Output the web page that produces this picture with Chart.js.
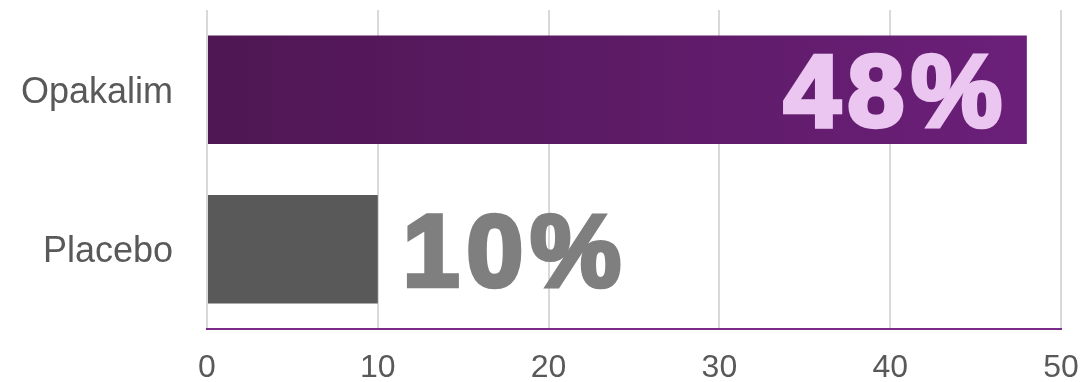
<!DOCTYPE html>
<html>
<head>
<meta charset="utf-8">
<script src="https://cdn.jsdelivr.net/npm/chart.js@4.4.1/dist/chart.umd.min.js"></script>
<style>
  html, body { margin: 0; padding: 0; background: #ffffff; }
  #wrap { width: 1084px; height: 382px; }
</style>
</head>
<body>
<div id="wrap"><canvas id="chart" width="1084" height="382"></canvas></div>
<script>
// Response rate by treatment arm (%)
const categories = ['Opakalim', 'Placebo'];
const responseRates = [48, 10];
const valueLabels = ['48%', '10%'];
const xTicks = [0, 10, 20, 30, 40, 50];

const labelColors = ['#ebc6f0', '#7f7f7f'];
const labelInside = [true, false];

// Heavy value labels: bold face thickened with a stroke and spaced out,
// positioned from each bar's own geometry
const valueLabelPlugin = {
  id: 'valueLabels',
  afterDatasetsDraw(chart) {
    const { ctx } = chart;
    const meta = chart.getDatasetMeta(0);
    const size = 102;
    const spacing = 7;
    ctx.save();
    ctx.font = 'bold ' + size + 'px "Liberation Sans", Arial, sans-serif';
    ctx.textBaseline = 'alphabetic';
    ctx.textAlign = 'left';
    ctx.lineJoin = 'miter';
    ctx.lineWidth = 4.5;
    meta.data.forEach((bar, i) => {
      const text = valueLabels[i];
      const chars = Array.from(text);
      const widths = chars.map(c => ctx.measureText(c).width);
      const total = widths.reduce((a, b) => a + b, 0) + spacing * (chars.length - 1);
      const y = bar.y + size * 0.716 / 2;
      let x = labelInside[i] ? bar.x - 25 - total : bar.x + 25;
      ctx.fillStyle = labelColors[i];
      ctx.strokeStyle = labelColors[i];
      chars.forEach((c, k) => {
        ctx.strokeText(c, x, y);
        ctx.fillText(c, x, y);
        x += widths[k] + spacing;
      });
    });
    ctx.restore();
  }
};

function barFill(context) {
  const chart = context.chart;
  const area = chart.chartArea;
  if (context.dataIndex === 1) return '#595959';
  if (!area) return '#53195a';
  const g = chart.ctx.createLinearGradient(area.left, 0, chart.scales.x.getPixelForValue(responseRates[0]), 0);
  g.addColorStop(0, '#4f1753');
  g.addColorStop(1, '#6b1f79');
  return g;
}

new Chart(document.getElementById('chart'), {
  type: 'bar',
  data: {
    labels: categories,
    datasets: [{
      data: responseRates,
      backgroundColor: barFill,
      borderWidth: 0,
      barPercentage: 0.68,
      categoryPercentage: 1.0
    }]
  },
  options: {
    indexAxis: 'y',
    responsive: false,
    animation: false,
    layout: { padding: { top: 10, right: 23, left: 0, bottom: 0 } },
    plugins: {
      legend: { display: false },
      tooltip: { enabled: false }
    },
    scales: {
      x: {
        min: 0,
        max: 50,
        afterBuildTicks(scale) { scale.ticks = xTicks.map(v => ({ value: v })); },
        afterFit(scale) {
          scale.height = 53;
          scale.paddingLeft = 0;
          scale.paddingRight = 0;
        },
        grid: { color: '#d9d9d9', lineWidth: 2, drawTicks: false },
        border: { display: true, color: '#7a2a88', width: 2 },
        ticks: {
          color: '#595959',
          padding: 20,
          font: { family: '"Liberation Sans", Arial, sans-serif', size: 32 }
        }
      },
      y: {
        afterFit(scale) {
          scale.width = 207;
          scale.paddingTop = 0;
          scale.paddingBottom = 0;
        },
        grid: { display: false, drawTicks: false },
        border: { display: false },
        ticks: {
          color: '#595959',
          padding: 34,
          labelOffset: 3,
          font: { family: '"Liberation Sans", Arial, sans-serif', size: 36 }
        }
      }
    }
  },
  plugins: [valueLabelPlugin]
});
</script>
</body>
</html>
